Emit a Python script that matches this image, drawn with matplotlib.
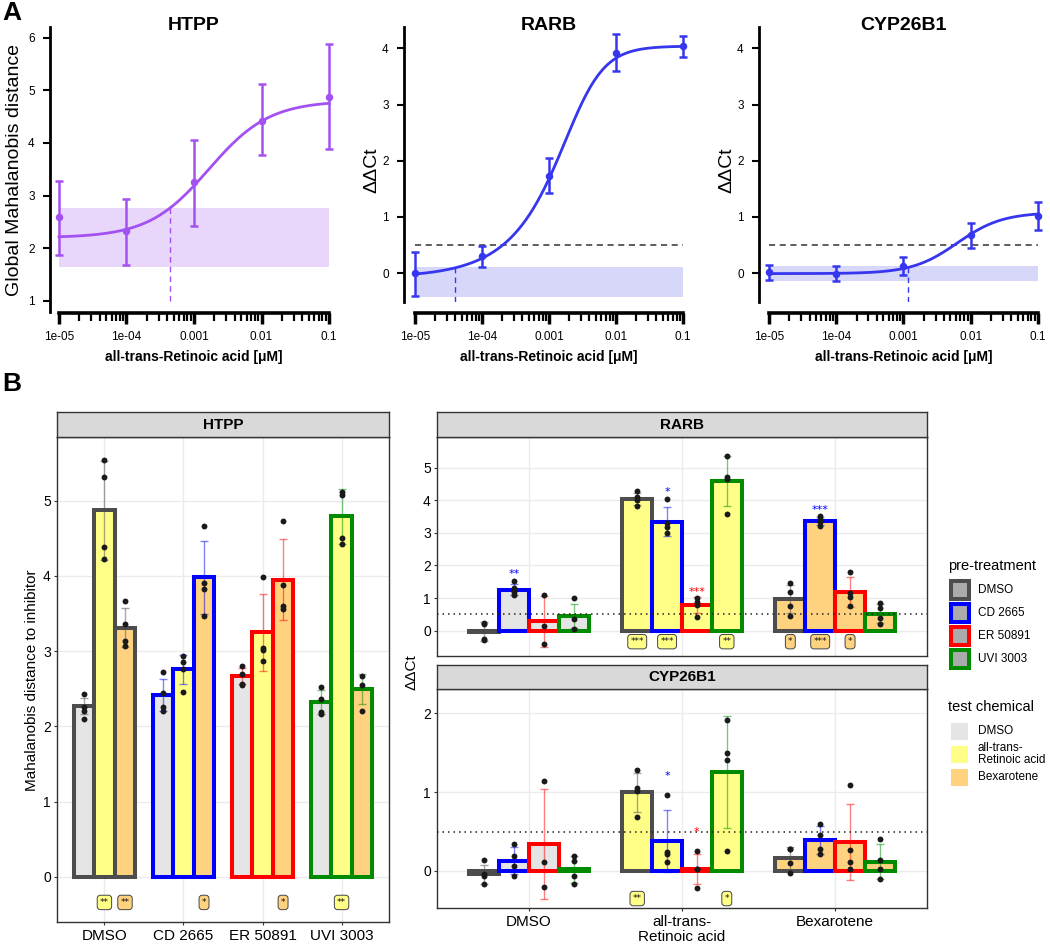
import numpy as np
import matplotlib
matplotlib.use('Agg')
import matplotlib.pyplot as plt
from matplotlib.patches import Rectangle
from matplotlib.ticker import FixedLocator, NullFormatter

plt.rcParams['font.family'] = ['Liberation Sans', 'DejaVu Sans']

# ---------------- Panel A data ----------------
conc = [1e-5, 1e-4, 1e-3, 1e-2, 1e-1]
conc_labels = ['1e-05', '1e-04', '0.001', '0.01', '0.1']

htpp_mean = [2.59, 2.33, 3.25, 4.42, 4.88]
htpp_lo = [1.87, 1.68, 2.43, 3.77, 3.88]
htpp_hi = [3.28, 2.94, 4.05, 5.11, 5.88]
htpp_fit = dict(bottom=2.20, top=4.80, log_ec50=-2.78, slope=0.97, asym=1.0)
htpp_band = [1.65, 2.76]
htpp_threshold = 4.4e-4

rarb_mean = [0.00, 0.30, 1.73, 3.92, 4.04]
rarb_lo = [-0.40, 0.10, 1.42, 3.60, 3.85]
rarb_hi = [0.38, 0.49, 2.04, 4.25, 4.22]
rarb_fit = dict(bottom=-0.08, top=4.04, log_ec50=-2.545, slope=1.65, asym=0.45)
rarb_band = [-0.42, 0.10]
rarb_threshold = 3.95e-5

cyp_mean = [0.01, -0.01, 0.12, 0.67, 1.02]
cyp_lo = [-0.12, -0.14, -0.03, 0.44, 0.77]
cyp_hi = [0.15, 0.12, 0.28, 0.89, 1.27]
cyp_fit = dict(bottom=-0.01, top=1.08, log_ec50=-2.2, slope=1.3, asym=1.0)
cyp_band = [-0.14, 0.12]
cyp_threshold = 1.15e-3

ddct_cutoff = 0.5

# ---------------- Panel B data ----------------
pre_names = ['DMSO', 'CD 2665', 'ER 50891', 'UVI 3003']
pre_colors = ['#4d4d4d', '#0000ff', '#ff0000', '#008b00']
test_names = ['DMSO', 'all-trans-\nRetinoic acid', 'Bexarotene']
test_colors = ['#e5e5e5', '#ffff88', '#ffd27f']

# HTPP: [pre-treatment][test chemical]
htpp_bar_mean = [[2.27, 4.87, 3.31],
                 [2.42, 2.76, 3.98],
                 [2.67, 3.25, 3.95],
                 [2.32, 4.79, 2.50]]
htpp_bar_sd = [[0.11, 0.66, 0.26],
               [0.21, 0.19, 0.49],
               [0.10, 0.51, 0.54],
               [0.16, 0.36, 0.20]]
htpp_points = [[[2.43, 2.26, 2.21, 2.10], [5.54, 5.31, 4.39, 4.23], [3.67, 3.36, 3.13, 3.07]],
               [[2.72, 2.45, 2.26, 2.21], [2.93, 2.85, 2.76, 2.46], [4.66, 3.91, 3.83, 3.47]],
               [[2.80, 2.69, 2.57, 2.55], [3.99, 3.04, 3.01, 2.87], [4.73, 3.88, 3.60, 3.56]],
               [[2.52, 2.37, 2.19, 2.16], [5.11, 5.07, 4.51, 4.42], [2.67, 2.55, 2.20]]]
htpp_sig_box = [(0, 1, '**'), (0, 2, '**'), (1, 2, '*'), (2, 2, '*'), (3, 1, '**')]
sig_box_y_htpp = -0.34

# RARB: [test chemical][pre-treatment]
rarb_bar_mean = [[-0.03, 1.26, 0.28, 0.46],
                 [4.05, 3.35, 0.79, 4.60],
                 [0.97, 3.37, 1.19, 0.52]]
rarb_bar_sd = [[0.30, 0.17, 0.77, 0.37],
               [0.19, 0.45, 0.24, 0.76],
               [0.44, 0.12, 0.45, 0.30]]
rarb_points = [[[0.23, 0.21, -0.25, -0.28], [1.51, 1.32, 1.20, 1.09], [1.10, 0.15, -0.42], [1.00, 0.35, 0.05]],
               [[4.29, 4.09, 4.01, 3.83], [4.03, 3.30, 3.19, 2.99], [0.99, 0.89, 0.79, 0.43], [5.36, 4.72, 4.67, 3.58]],
               [[1.45, 1.18, 0.76, 0.45], [3.52, 3.44, 3.34, 3.21], [1.81, 1.15, 1.04, 0.76], [0.84, 0.69, 0.38, 0.20]]]
rarb_sig_box = [(1, 0, '***'), (1, 1, '***'), (1, 3, '**'), (2, 0, '*'), (2, 1, '***'), (2, 2, '*')]
rarb_stars = [(0, 1, '**', 1.84), (1, 1, '*', 4.35), (1, 2, '***', 1.30), (2, 1, '***', 3.80)]
sig_box_y_rarb = -0.34

# CYP26B1: [test chemical][pre-treatment]
cyp_bar_mean = [[-0.04, 0.13, 0.34, 0.02],
                [1.00, 0.38, 0.02, 1.26],
                [0.16, 0.39, 0.37, 0.12]]
cyp_bar_sd = [[0.12, 0.17, 0.70, 0.17],
              [0.25, 0.39, 0.19, 0.71],
              [0.15, 0.175, 0.48, 0.22]]
cyp_points = [[[0.135, -0.035, -0.07, -0.17], [0.34, 0.19, 0.06, -0.07], [1.14, 0.12, -0.20], [0.19, 0.13, -0.06, -0.17]],
              [[1.28, 1.05, 1.02, 0.68], [0.96, 0.24, 0.21, 0.11], [0.25, 0.03, 0.02, -0.21], [1.92, 1.50, 1.41, 0.25]],
              [[0.28, 0.28, 0.10, -0.03], [0.60, 0.46, 0.275, 0.22], [1.09, 0.26, 0.11, 0.03], [0.40, 0.14, 0.025, -0.10]]]
cyp_sig_box = [(1, 0, '**'), (1, 3, '*')]
cyp_stars = [(1, 1, '*', 1.25), (1, 2, '*', 0.54)]
sig_box_y_cyp = -0.35

# ---------------- figure ----------------
W, H = 1050, 947
fig = plt.figure(figsize=(W / 100, H / 100), dpi=100)


def px_axes(x0, y0, x1, y1, **kw):
    return fig.add_axes([x0 / W, 1 - y1 / H, (x1 - x0) / W, (y1 - y0) / H], **kw)


def hill(x, p):
    return p['bottom'] + (p['top'] - p['bottom']) / \
        (1 + 10 ** (p['slope'] * (p['log_ec50'] - np.log10(x)))) ** p['asym']


minor_pos = [k * 10.0 ** e for e in range(-5, -1) for k in range(2, 10)]

A_specs = [
    dict(box=(50, 27, 339, 312), xl=(-5.133, -0.852), yl=(0.79, 6.2), yt=[1, 2, 3, 4, 5, 6],
         out=1, mean=htpp_mean, lo=htpp_lo, hi=htpp_hi, fit=htpp_fit, band=htpp_band,
         thr=htpp_threshold, thr_bottom=1.0, color='#a451f2', band_color='#e9d6fb',
         cutoff=False, title='HTPP', ylabel='Global Mahalanobis distance', ylab_x=15),
    dict(box=(404, 26.7, 693, 301.7), xl=(-5.164, -0.851), yl=(-0.51, 4.385), yt=[0, 1, 2, 3, 4],
         out=8, mean=rarb_mean, lo=rarb_lo, hi=rarb_hi, fit=rarb_fit, band=rarb_band,
         thr=rarb_threshold, thr_bottom=-0.51, color='#3636ee', band_color='#d7d7fa',
         cutoff=True, title='RARB', ylabel='ΔΔCt', ylab_x=372),
    dict(box=(759, 26.7, 1048, 301.7), xl=(-5.149, -0.851), yl=(-0.51, 4.385), yt=[0, 1, 2, 3, 4],
         out=8, mean=cyp_mean, lo=cyp_lo, hi=cyp_hi, fit=cyp_fit, band=cyp_band,
         thr=cyp_threshold, thr_bottom=-0.51, color='#3636ee', band_color='#d7d7fa',
         cutoff=True, title='CYP26B1', ylabel='ΔΔCt', ylab_x=727),
]

for sp in A_specs:
    ax = px_axes(*sp['box'])
    ax.set_xscale('log')
    ax.set_xlim(10 ** sp['xl'][0], 10 ** sp['xl'][1])
    ax.set_ylim(*sp['yl'])
    ax.patch.set_alpha(0)
    ax.fill_between([conc[0], conc[-1]], sp['band'][0], sp['band'][1],
                    color=sp['band_color'], lw=0, zorder=1)
    if sp['cutoff']:
        ax.plot([conc[0], conc[-1]], [ddct_cutoff, ddct_cutoff], color='#333333',
                lw=1.1, dashes=(4, 3), zorder=2)
    ax.plot([sp['thr'], sp['thr']], [sp['thr_bottom'], sp['band'][1]], color=sp['color'],
            lw=1.0, dashes=(4, 3), zorder=2)
    xs = np.logspace(-5, -1, 300)
    ax.plot(xs, hill(xs, sp['fit']), color=sp['color'], lw=2, zorder=3)
    m = np.array(sp['mean'])
    ax.errorbar(conc, m, yerr=[m - np.array(sp['lo']), np.array(sp['hi']) - m], fmt='o',
                color=sp['color'], ms=4.4, elinewidth=1.8, capsize=3, capthick=1.8, zorder=4)
    for s in ['top', 'right']:
        ax.spines[s].set_visible(False)
    ax.spines['left'].set_linewidth(2)
    ax.spines['bottom'].set_linewidth(2.6)
    ax.spines['bottom'].set_position(('outward', sp['out']))
    ax.spines['bottom'].set_bounds(conc[0], conc[-1])
    ax.set_xticks(conc, labels=conc_labels)
    ax.xaxis.set_minor_locator(FixedLocator(minor_pos))
    ax.xaxis.set_minor_formatter(NullFormatter())
    ax.tick_params(axis='x', which='major', length=8, width=2.5, labelsize=8.5, pad=5)
    ax.tick_params(axis='x', which='minor', length=6, width=1.6)
    ax.set_yticks(sp['yt'])
    ax.tick_params(axis='y', length=5, width=1.5, labelsize=8.5, pad=6)
    x0, y0, x1, y1 = sp['box']
    lx0 = x0 + (np.log10(conc[0]) - sp['xl'][0]) / (sp['xl'][1] - sp['xl'][0]) * (x1 - x0)
    lx1 = x0 + (np.log10(conc[-1]) - sp['xl'][0]) / (sp['xl'][1] - sp['xl'][0]) * (x1 - x0)
    cx = (lx0 + lx1) / 2
    fig.text(cx / W, 1 - 25 / H, sp['title'], ha='center', va='center',
             fontsize=14, fontweight='bold')
    fig.text(cx / W, 1 - 357 / H, 'all-trans-Retinoic acid [μM]', ha='center', va='center',
             fontsize=10, fontweight='bold')
    fig.text(sp['ylab_x'] / W, 1 - 170 / H, sp['ylabel'], ha='center', va='center',
             rotation=90, fontsize=14)

fig.text(2 / W, 1 - 13 / H, 'A', ha='left', va='center', fontsize=19, fontweight='bold')
fig.text(2 / W, 1 - 384 / H, 'B', ha='left', va='center', fontsize=19, fontweight='bold')


# ---------------- Panel B helpers ----------------
def style_panel(ax, xlim, ylim, yticks, xticks, xlabels, ylab_size=10):
    ax.set_xlim(*xlim)
    ax.set_ylim(*ylim)
    ax.set_yticks(yticks)
    ax.set_xticks(xticks)
    if xlabels is None:
        ax.set_xticklabels([])
        ax.tick_params(axis='x', length=0)
    else:
        ax.set_xticklabels(xlabels, linespacing=1.1)
        ax.tick_params(axis='x', length=2.5, width=0.8, color='#333333', labelsize=11, pad=2.5)
    ax.tick_params(axis='y', length=2.5, width=0.8, color='#333333', labelsize=ylab_size, pad=2)
    ax.grid(True, color='#ebebeb', lw=1.0)
    ax.set_axisbelow(True)
    for s in ax.spines.values():
        s.set_color('#333333')
        s.set_linewidth(1.0)


def strip(box, label):
    sax = px_axes(*box)
    sax.set_facecolor('#d9d9d9')
    sax.set_xticks([])
    sax.set_yticks([])
    for s in sax.spines.values():
        s.set_color('#333333')
        s.set_linewidth(1.0)
    sax.text(0.5, 0.5, label, transform=sax.transAxes, ha='center', va='center',
             fontsize=11, fontweight='bold')


def draw_bar(ax, x, h, sd, pts, fill, edge, bw):
    ax.bar([x], [h], width=bw, color=fill, edgecolor=edge, linewidth=2.9, zorder=2,
           joinstyle='miter')
    ax.errorbar([x], [h], yerr=[sd], fmt='none', ecolor=edge, alpha=0.5, elinewidth=1,
                capsize=3, capthick=1, zorder=3)
    ax.scatter([x] * len(pts), pts, s=18, color='#1a1a1a', linewidths=0, zorder=4)


def sig_box(ax, x, y, text, fill):
    ax.text(x, y, text, ha='center', va='center', fontsize=6.5, color='#111111', zorder=6,
            family='DejaVu Sans',
            bbox=dict(boxstyle='round,pad=0.3,rounding_size=0.35', fc=fill,
                      ec='#444444', lw=0.7))


def star(ax, x, y, text, color):
    ax.annotate(text, (x, y), xytext=(0, -4.7), textcoords='offset points', ha='center',
                va='baseline', fontsize=8, color=color, zorder=6, family='DejaVu Sans')


# ---------------- HTPP (panel B) ----------------
axh = px_axes(57, 437.5, 389, 922)
style_panel(axh, (-0.6, 3.6), (-0.60, 5.84), [0, 1, 2, 3, 4, 5], range(4), pre_names)
strip((57, 412, 389, 437.5), 'HTPP')
bw_h = 0.26
for i in range(len(pre_names)):
    for j in range(len(test_names)):
        draw_bar(axh, i + (j - 1) * bw_h, htpp_bar_mean[i][j], htpp_bar_sd[i][j],
                 htpp_points[i][j], test_colors[j], pre_colors[i], bw_h)
for i, j, t in htpp_sig_box:
    sig_box(axh, i + (j - 1) * bw_h, sig_box_y_htpp, t, test_colors[j])
fig.text(32 / W, 1 - 680 / H, 'Mahalanobis distance to inhibitor', rotation=90,
         ha='center', va='center', fontsize=11)

# ---------------- RARB / CYP26B1 ----------------
bw_g = 0.195
gene_specs = [
    dict(box=(437, 437.5, 927, 656), strip=(437, 412, 927, 437.5), name='RARB',
         ylim=(-0.78, 5.93), yt=[0, 1, 2, 3, 4, 5], mean=rarb_bar_mean, sd=rarb_bar_sd,
         pts=rarb_points, sig=rarb_sig_box, sig_y=sig_box_y_rarb, stars=rarb_stars, xl=None),
    dict(box=(437, 689, 927, 908), strip=(437, 665, 927, 689), name='CYP26B1',
         ylim=(-0.47, 2.31), yt=[0, 1, 2], mean=cyp_bar_mean, sd=cyp_bar_sd,
         pts=cyp_points, sig=cyp_sig_box, sig_y=sig_box_y_cyp, stars=cyp_stars, xl=test_names),
]
for g in gene_specs:
    ax = px_axes(*g['box'])
    style_panel(ax, (-0.6, 2.6), g['ylim'], g['yt'], range(3), g['xl'])
    strip(g['strip'], g['name'])
    for j in range(len(test_names)):
        for i in range(len(pre_names)):
            draw_bar(ax, j + (i - 1.5) * bw_g, g['mean'][j][i], g['sd'][j][i],
                     g['pts'][j][i], test_colors[j], pre_colors[i], bw_g)
    ax.axhline(ddct_cutoff, color='#222222', lw=1.1, ls=(0, (1, 2.6)), zorder=3.5)
    for j, i, t in g['sig']:
        sig_box(ax, j + (i - 1.5) * bw_g, g['sig_y'], t, test_colors[j])
    for j, i, t, y in g['stars']:
        star(ax, j + (i - 1.5) * bw_g, y, t, pre_colors[i])

fig.text(412 / W, 1 - 672 / H, 'ΔΔCt', rotation=90, ha='center', va='center', fontsize=11)

# ---------------- legends ----------------
lax = fig.add_axes([0, 0, 1, 1], zorder=10)
lax.set_xlim(0, W)
lax.set_ylim(H, 0)
lax.axis('off')
lax.text(948, 566, 'pre-treatment', ha='left', va='center', fontsize=10.5)
pre_key_y = [590, 613, 636, 659]
for k in range(len(pre_names)):
    lax.add_patch(Rectangle((951, pre_key_y[k] - 9), 18, 18, fc='#ababab', ec=pre_colors[k],
                            lw=2.9, joinstyle='miter'))
    lax.text(978, pre_key_y[k], pre_names[k], ha='left', va='center', fontsize=8.5)
lax.text(948, 707, 'test chemical', ha='left', va='center', fontsize=10.5)
test_key_y = [731, 754, 777]
for k in range(len(test_names)):
    lax.add_patch(Rectangle((951, test_key_y[k] - 8.5), 17, 17, fc=test_colors[k], lw=0))
    lax.text(978, test_key_y[k], test_names[k], ha='left', va='center', fontsize=8.5,
             linespacing=0.9)

fig.savefig('out.png', dpi=100)
